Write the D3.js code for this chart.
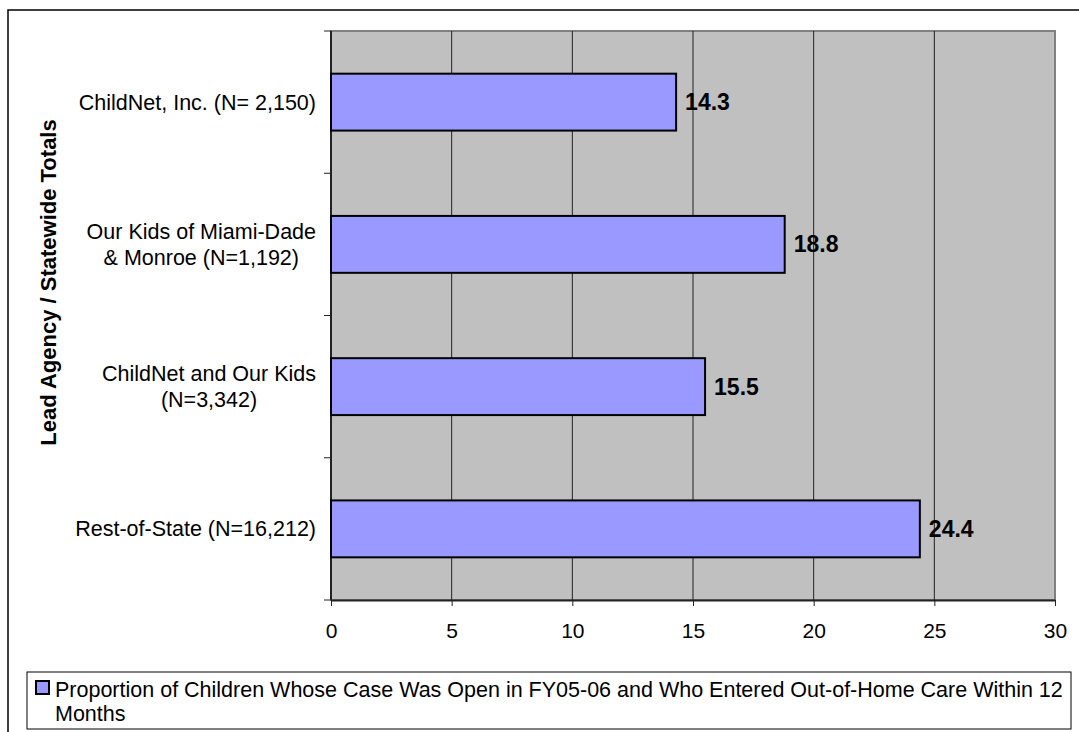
<!DOCTYPE html>
<html><head><meta charset="utf-8">
<script src="https://cdn.jsdelivr.net/npm/d3@7"></script>
<style>body{margin:0;background:#fff}svg{display:block}text{font-family:"Liberation Sans",Arial,sans-serif}</style>
</head><body>
<svg id="c" width="1079" height="732"></svg>
<script>
const categories = [
  ["ChildNet, Inc. (N= 2,150)"],
  ["Our Kids of Miami-Dade", "& Monroe (N=1,192)"],
  ["ChildNet and Our Kids", "(N=3,342)"],
  ["Rest-of-State (N=16,212)"]
];
const values = [14.3, 18.8, 15.5, 24.4];
const xTicks = [0, 5, 10, 15, 20, 25, 30];
const yTitle = "Lead Agency / Statewide Totals";
const legendLines = ["Proportion of Children Whose Case Was Open in FY05-06 and Who Entered Out-of-Home Care Within 12", "Months"];

const svg = d3.select("#c");
const L = 331, R = 1055, T = 31, B = 600;
const x = d3.scaleLinear().domain([0, 30]).range([L, R]);
const keys = categories.map((d, i) => i);
const yBand = d3.scaleBand().domain(keys).range([T, B]).paddingInner(0).paddingOuter(0);
const yBar = d3.scaleBand().domain(keys).range([T, B]).paddingInner(0.6).paddingOuter(0.3);

// outer frame
svg.append("rect").attr("x", 8).attr("y", 10).attr("width", 1100).attr("height", 760)
  .attr("fill", "none").attr("stroke", "#000").attr("stroke-width", 1.5);

// plot area
svg.append("rect").attr("x", L).attr("y", T).attr("width", R - L).attr("height", B - T)
  .attr("fill", "#c0c0c0").attr("stroke", "#808080").attr("stroke-width", 2);

// gridlines
svg.append("g").selectAll("line").data(xTicks.filter(t => t > 0 && t < 30)).join("line")
  .attr("x1", d => x(d)).attr("x2", d => x(d)).attr("y1", T).attr("y2", B)
  .attr("stroke", "#222").attr("stroke-width", 1);

// x axis
const xAxis = d3.axisBottom(x).tickValues(xTicks).tickSize(6).tickPadding(17).tickSizeOuter(0);
const gx = svg.append("g").attr("transform", `translate(0,${B})`).call(xAxis);
gx.select(".domain").attr("stroke", "#222").attr("stroke-width", 2);
gx.selectAll(".tick line").attr("stroke", "#222");
gx.selectAll("text").attr("font-size", 21).attr("fill", "#000")
  .style("font-family", '"Liberation Sans",Arial,sans-serif');

// y axis line and ticks at band boundaries
const bounds = keys.map(k => yBand(k)).concat([B]);
svg.append("line").attr("x1", L).attr("x2", L).attr("y1", T).attr("y2", B)
  .attr("stroke", "#222").attr("stroke-width", 2);
svg.append("g").selectAll("line").data(bounds).join("line")
  .attr("x1", L - 7).attr("x2", L).attr("y1", d => d).attr("y2", d => d)
  .attr("stroke", "#222").attr("stroke-width", 1);

// bars
svg.append("g").selectAll("rect").data(values).join("rect")
  .attr("x", x(0)).attr("y", (d, i) => yBar(i))
  .attr("width", d => x(d) - x(0)).attr("height", yBar.bandwidth())
  .attr("fill", "#9999ff").attr("stroke", "#000").attr("stroke-width", 2);

// value labels
svg.append("g").selectAll("text").data(values).join("text")
  .attr("x", d => x(d) + 9).attr("y", (d, i) => yBand(i) + yBand.bandwidth() / 2 + 8)
  .attr("font-size", 23).attr("font-weight", "bold").attr("fill", "#000")
  .text(d => d.toFixed(1));

// category labels
const labelRight = 316, lh = 25.7;
categories.forEach((lines, i) => {
  const cy = yBand(i) + yBand.bandwidth() / 2;
  const g = svg.append("g");
  const texts = lines.map((s, j) => g.append("text").attr("font-size", 21.5).attr("fill", "#000")
    .attr("text-anchor", "middle")
    .attr("y", cy + 7.5 + (j - (lines.length - 1) / 2) * lh).text(s));
  const w = d3.max(texts, t => t.node().getComputedTextLength());
  texts.forEach(t => t.attr("x", labelRight - w / 2));
});

// y title
svg.append("text").attr("transform", "translate(56,282.5) rotate(-90)")
  .attr("text-anchor", "middle").attr("font-size", 22).attr("font-weight", "bold").attr("fill", "#000")
  .text(yTitle);

// legend
svg.append("rect").attr("x", 27).attr("y", 672).attr("width", 1044).attr("height", 57)
  .attr("fill", "#fff").attr("stroke", "#000").attr("stroke-width", 1);
svg.append("rect").attr("x", 36).attr("y", 681).attr("width", 13).attr("height", 13)
  .attr("fill", "#9999ff").attr("stroke", "#000").attr("stroke-width", 2);
svg.append("g").selectAll("text").data(legendLines).join("text")
  .attr("x", 55).attr("y", (d, i) => 697 + i * 23.5)
  .attr("font-size", 21.5).attr("fill", "#000").text(d => d);
</script>
</body></html>
